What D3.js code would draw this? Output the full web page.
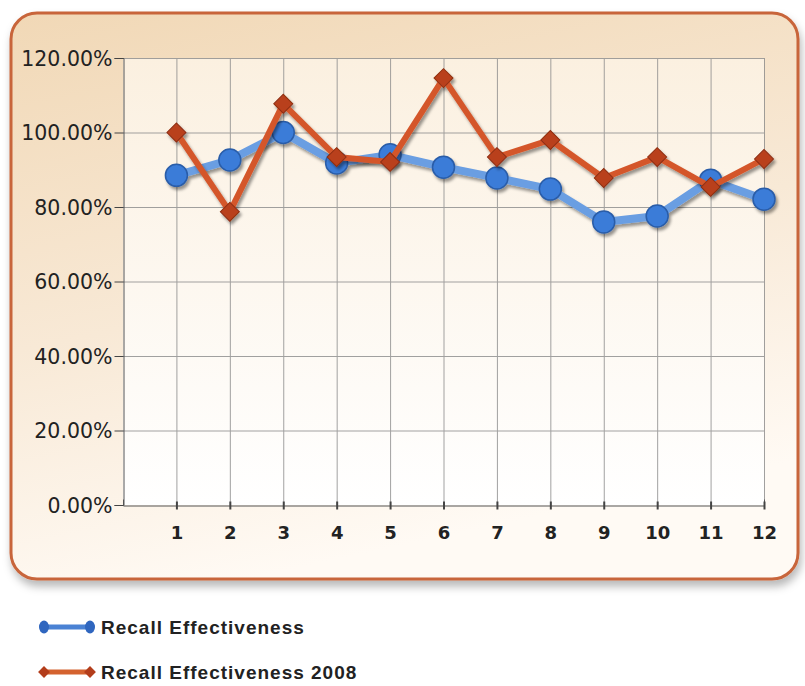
<!DOCTYPE html>
<html>
<head>
<meta charset="utf-8">
<script src="https://cdn.jsdelivr.net/npm/d3@7"></script>
<style>
  html, body { margin: 0; padding: 0; background: #fff; }
  svg { display: block; }
</style>
</head>
<body>
<svg id="chart" width="805" height="686"></svg>
<script>
const months = [1, 2, 3, 4, 5, 6, 7, 8, 9, 10, 11, 12];
const recall = [88.5, 92.6, 100, 91.8, 94, 90.7, 87.8, 84.8, 76, 77.6, 87.2, 82.1];
const recall2008 = [100, 78.7, 107.7, 93.4, 92.1, 114.6, 93.4, 98, 87.8, 93.4, 85.4, 92.9];
const yTicks = [0, 20, 40, 60, 80, 100, 120];
const seriesNames = ["Recall Effectiveness", "Recall Effectiveness 2008"];

const svg = d3.select("#chart");
const defs = svg.append("defs");

// gradients
const frameGrad = defs.append("linearGradient").attr("id", "frameGrad")
    .attr("x1", 0).attr("y1", 0).attr("x2", 0.3).attr("y2", 1);
frameGrad.append("stop").attr("offset", "0%").attr("stop-color", "#f1d8b6");
frameGrad.append("stop").attr("offset", "55%").attr("stop-color", "#f8e9d6");
frameGrad.append("stop").attr("offset", "100%").attr("stop-color", "#fffaf4");

const plotGrad = defs.append("linearGradient").attr("id", "plotGrad")
    .attr("x1", 0).attr("y1", 0).attr("x2", 0).attr("y2", 1);
plotGrad.append("stop").attr("offset", "0%").attr("stop-color", "#fbf0e0");
plotGrad.append("stop").attr("offset", "100%").attr("stop-color", "#ffffff");

const frameShadow = defs.append("filter").attr("id", "frameShadow")
    .attr("x", "-5%").attr("y", "-5%").attr("width", "115%").attr("height", "115%");
frameShadow.append("feDropShadow").attr("dx", 2).attr("dy", 6).attr("stdDeviation", 4)
    .attr("flood-color", "#000").attr("flood-opacity", 0.28);

const markShadow = defs.append("filter").attr("id", "markShadow")
    .attr("x", "-10%").attr("y", "-10%").attr("width", "130%").attr("height", "130%");
markShadow.append("feDropShadow").attr("dx", 2).attr("dy", 3).attr("stdDeviation", 1.6)
    .attr("flood-color", "#000").attr("flood-opacity", 0.4);

// frame
svg.append("rect")
    .attr("x", 11).attr("y", 13).attr("width", 787).attr("height", 566)
    .attr("rx", 26).attr("ry", 26)
    .attr("fill", "url(#frameGrad)")
    .attr("stroke", "#c8653a").attr("stroke-width", 3)
    .attr("filter", "url(#frameShadow)");

const x = d3.scaleLinear().domain([0, 12]).range([123, 764]);
const y = d3.scaleLinear().domain([0, 120]).range([505, 58]);

// plot area
svg.append("rect")
    .attr("x", x(0)).attr("y", y(120))
    .attr("width", x(12) - x(0)).attr("height", y(0) - y(120))
    .attr("fill", "url(#plotGrad)");

// grid
const grid = svg.append("g").attr("stroke", "#8a8a8a").attr("stroke-width", 1).attr("opacity", 0.8);
grid.selectAll("line.v").data(months).join("line")
    .attr("x1", d => x(d) + 0.5).attr("x2", d => x(d) + 0.5)
    .attr("y1", y(120)).attr("y2", y(0));
grid.selectAll("line.h").data(yTicks.slice(1)).join("line")
    .attr("x1", x(0)).attr("x2", x(12))
    .attr("y1", d => y(d) + 0.5).attr("y2", d => y(d) + 0.5);

// axes
const yAxis = d3.axisLeft(y).tickValues(yTicks).tickSize(9).tickPadding(2)
    .tickFormat(d => d.toFixed(2) + "%");
const gy = svg.append("g").attr("transform", `translate(${x(0) + 0.5},0)`).call(yAxis);
gy.select(".domain").attr("stroke", "#555");
gy.selectAll(".tick line").attr("stroke", "#444");
gy.selectAll("text")
    .attr("font-family", "'DejaVu Sans', sans-serif").attr("font-size", 20.5)
    .attr("fill", "#222").attr("dy", "0.36em");

const xAxis = d3.axisBottom(x).tickValues(months).tickSize(-6).tickPadding(21)
    .tickFormat(d3.format("d"));
const gx = svg.append("g").attr("transform", `translate(0,${y(0) + 0.5})`).call(xAxis);
gx.select(".domain").attr("stroke", "#555");
gx.selectAll(".tick line").attr("stroke", "#444").attr("stroke-width", 2).attr("y1", 4).attr("y2", -4);
gx.selectAll("text")
    .attr("font-family", "'DejaVu Sans', sans-serif").attr("font-size", 18)
    .attr("font-weight", "bold").attr("fill", "#222");

// series
const line = d3.line().x((d, i) => x(months[i])).y(d => y(d));

const blue = svg.append("g").attr("filter", "url(#markShadow)");
blue.append("path").datum(recall)
    .attr("d", line).attr("fill", "none")
    .attr("stroke", "#6b9ee2").attr("stroke-width", 8).attr("stroke-linejoin", "round");
blue.selectAll("circle").data(recall).join("circle")
    .attr("cx", (d, i) => x(months[i])).attr("cy", d => y(d)).attr("r", 11)
    .attr("fill", "#3a7bd8").attr("stroke", "#2a5da8").attr("stroke-width", 1.5);

const diamond = d3.symbol().type(d3.symbolSquare).size(180);
const red = svg.append("g").attr("filter", "url(#markShadow)");
red.append("path").datum(recall2008)
    .attr("d", line).attr("fill", "none")
    .attr("stroke", "#d4572c").attr("stroke-width", 6).attr("stroke-linejoin", "round");
red.selectAll("path.m").data(recall2008).join("path")
    .attr("class", "m")
    .attr("d", diamond)
    .attr("transform", (d, i) => `translate(${x(months[i])},${y(d)}) rotate(45)`)
    .attr("fill", "#b9401c").attr("stroke", "#8e2e12").attr("stroke-width", 1);

// legend
const legend = svg.append("g");
const legendRows = [
    { name: seriesNames[0], y: 627, line: "#4a82d4", mark: "#2f66bf", shape: "circle" },
    { name: seriesNames[1], y: 672, line: "#d4622f", mark: "#b33d1b", shape: "diamond" }
];
legendRows.forEach(r => {
    const g = legend.append("g").attr("transform", `translate(0,${r.y})`);
    g.append("line").attr("x1", 44).attr("x2", 90).attr("y1", 0).attr("y2", 0)
        .attr("stroke", r.line).attr("stroke-width", 5);
    [44, 90].forEach(cx => {
        if (r.shape === "circle") {
            g.append("ellipse").attr("cx", cx).attr("cy", 0).attr("rx", 5).attr("ry", 6.5)
                .attr("fill", r.mark);
        } else {
            g.append("path").attr("d", d3.symbol().type(d3.symbolSquare).size(70))
                .attr("transform", `translate(${cx},0) rotate(45)`).attr("fill", r.mark);
        }
    });
    g.append("text").attr("x", 101).attr("y", 7)
        .attr("font-family", "'Liberation Sans', Arial, sans-serif")
        .attr("font-size", 19).attr("font-weight", "bold")
        .attr("letter-spacing", 1).attr("fill", "#222")
        .text(r.name);
});
</script>
</body>
</html>
